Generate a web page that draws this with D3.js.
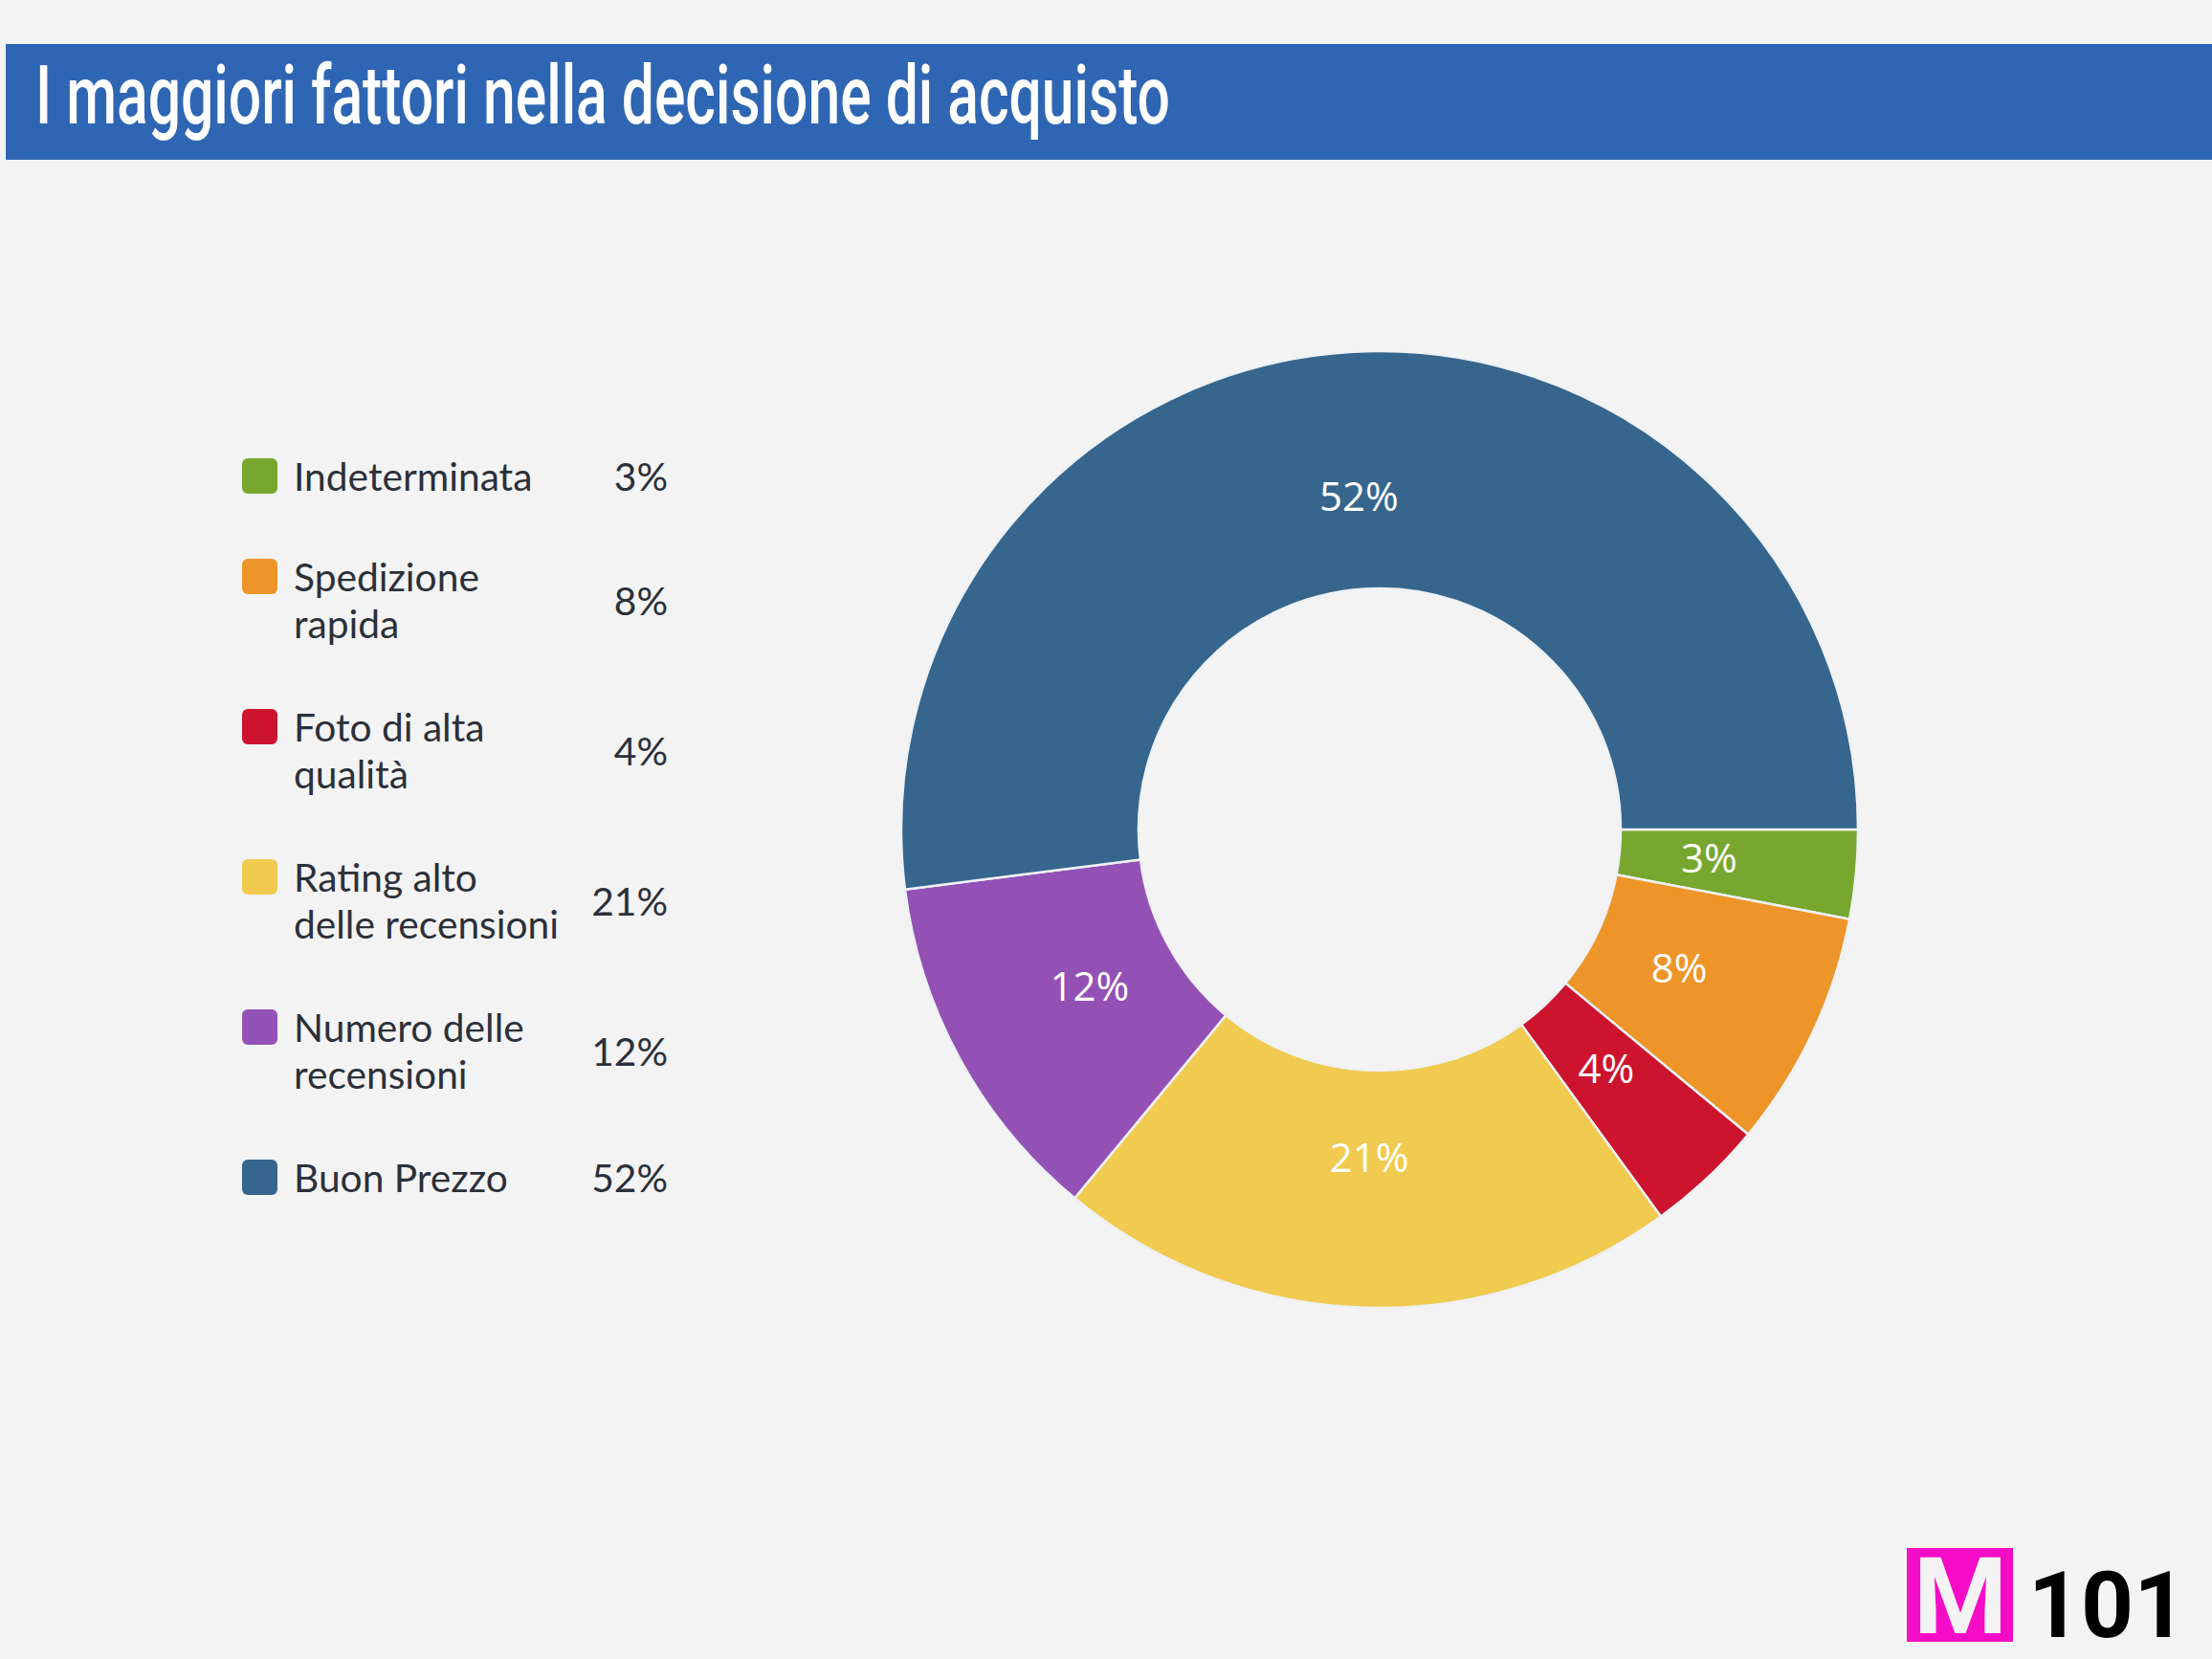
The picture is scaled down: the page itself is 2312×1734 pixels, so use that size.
<!DOCTYPE html>
<html>
<head>
<meta charset="utf-8">
<script src="https://cdn.jsdelivr.net/npm/d3@7"></script>
<style>
  html, body { margin: 0; padding: 0; background: #f3f3f3; }
  svg { display: block; }
</style>
</head>
<body>
<svg id="chart" width="2312" height="1734"></svg>
<script>
const title = "I maggiori fattori nella decisione di acquisto";
const categories = ["Indeterminata", "Spedizione rapida", "Foto di alta qualità", "Rating alto delle recensioni", "Numero delle recensioni", "Buon Prezzo"];
const legendLines = [["Indeterminata"], ["Spedizione", "rapida"], ["Foto di alta", "qualità"], ["Rating alto", "delle recensioni"], ["Numero delle", "recensioni"], ["Buon Prezzo"]];
const values = [3, 8, 4, 21, 12, 52];
const colors = ["#78a72f", "#ed9529", "#cd142f", "#f1cb50", "#9351b5", "#36668d"];

const svg = d3.select("#chart");
svg.append("rect").attr("width", 2312).attr("height", 1734).attr("fill", "#f3f3f3");

// Title bar
svg.append("rect").attr("x", 6).attr("y", 46).attr("width", 2306).attr("height", 121).attr("fill", "#2f66b3");
svg.append("text")
  .attr("x", 37).attr("y", 129)
  .attr("font-family", "Roboto, 'Liberation Sans', sans-serif")
  .attr("font-weight", 500)
  .attr("font-size", 85)
  .attr("fill", "#ffffff")
  .attr("textLength", 1186)
  .attr("lengthAdjust", "spacingAndGlyphs")
  .text(title);

// Donut
const cx = 1442, cy = 867, rOuter = 500, rInner = 252, rLabel = 346;
const pie = d3.pie().sort(null).value(d => d).startAngle(Math.PI / 2).endAngle(Math.PI / 2 + 2 * Math.PI);
const arcs = pie(values);
const arc = d3.arc().innerRadius(rInner).outerRadius(rOuter);
const labelArc = d3.arc().innerRadius(rLabel).outerRadius(rLabel);

const g = svg.append("g").attr("transform", `translate(${cx},${cy})`);
g.selectAll("path.slice")
  .data(arcs)
  .join("path")
  .attr("class", "slice")
  .attr("d", arc)
  .attr("fill", (d, i) => colors[i])
  .attr("stroke", "#eef1f4")
  .attr("stroke-width", 2.5)
  .attr("stroke-linejoin", "round");

g.selectAll("text.lbl")
  .data(arcs)
  .join("text")
  .attr("class", "lbl")
  .attr("transform", d => { const c = labelArc.centroid(d); return `translate(${c[0]},${c[1] - 4})`; })
  .attr("text-anchor", "middle")
  .attr("dominant-baseline", "central")
  .attr("font-family", "'Open Sans', sans-serif")
  .attr("font-size", 42)
  .attr("fill", "#ffffff")
  .text(d => d.data + "%");

// Legend
const legend = svg.append("g");
let y = 513;
const lineH = 49;
legendLines.forEach((lines, i) => {
  const item = legend.append("g");
  item.append("rect")
    .attr("x", 253).attr("y", y - 34).attr("width", 37).attr("height", 37)
    .attr("rx", 6).attr("fill", colors[i]);
  const t = item.append("text")
    .attr("font-family", "Lato, sans-serif")
    .attr("font-size", 40.7)
    .attr("fill", "#2c3039");
  lines.forEach((ln, j) => {
    t.append("tspan").attr("x", 307).attr("y", y + j * lineH).text(ln);
  });
  item.append("text")
    .attr("x", 698).attr("y", y + (lines.length - 1) * lineH / 2)
    .attr("text-anchor", "end")
    .attr("font-family", "Lato, sans-serif")
    .attr("font-size", 40.7)
    .attr("fill", "#2c3039")
    .text(values[i] + "%");
  y += lines.length * lineH + (lines.length === 1 ? 56 : 59);
});

// Logo
svg.append("rect").attr("x", 1993).attr("y", 1618).attr("width", 111).attr("height", 98).attr("fill", "#f50cc6");
svg.append("text")
  .attr("x", 2049).attr("y", 1707)
  .attr("text-anchor", "middle")
  .attr("font-family", "Roboto, sans-serif")
  .attr("font-weight", 700)
  .attr("font-size", 112)
  .attr("fill", "#f3f3f3")
  .text("M");
svg.append("text")
  .attr("x", 2120).attr("y", 1711)
  .attr("font-family", "Roboto, sans-serif")
  .attr("font-weight", 700)
  .attr("font-size", 96)
  .attr("fill", "#000000")
  .text("101");
</script>
</body>
</html>
